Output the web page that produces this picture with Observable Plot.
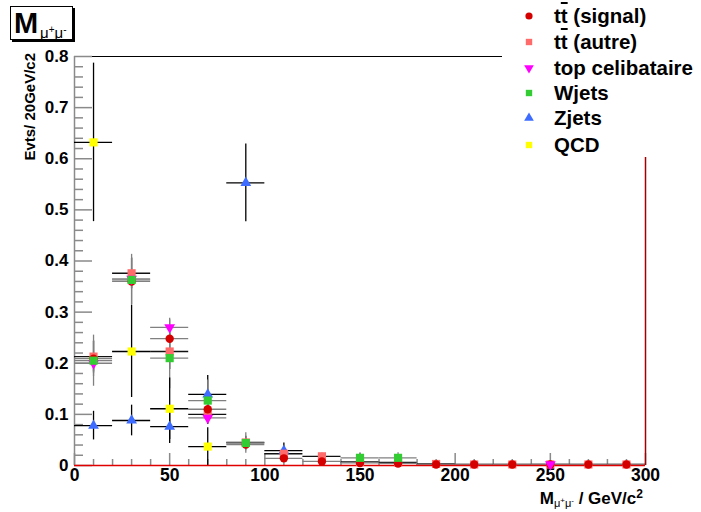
<!DOCTYPE html>
<html>
<head>
<meta charset="utf-8">
<script src="https://cdn.jsdelivr.net/npm/d3@7"></script>
<script src="https://cdn.jsdelivr.net/npm/@observablehq/plot@0.6"></script>
<style>
  body { margin: 0; background: #fff; }
  #wrap { position: relative; width: 701px; height: 512px; font-family: "Liberation Sans", Arial, Helvetica, sans-serif; }
  .ov { position: absolute; white-space: nowrap; color: #000; }
  #legend { position: absolute; left: 502px; top: 0; width: 199px; height: 157px; background: #fff; }
  .lrow { position: absolute; left: 0; height: 26px; display: flex; align-items: center; font-weight: bold; font-size: 20.5px; }
  .lrow svg { margin-left: 21px; margin-right: 19px; }
</style>
</head>
<body>
<div id="wrap"></div>
<script>
// Bin centres (GeV/c2), bin width 20
const bins = [10, 30, 50, 70, 90, 110, 130, 150, 170, 190, 210, 230, 250, 270, 290];

// Series values per bin (null = empty bin)
const ttSignal    = [0.209, 0.360, 0.248, 0.110, 0.041, 0.014, 0.008, 0.005, 0.004, 0.002, 0.002, 0.002, 0.002, 0.002, 0.002];
const ttSignalErr = [0.035, 0.045, 0.040, 0.025, 0.012, 0.008, 0.005, 0.003, 0.003, 0.002, 0.002, 0.001, 0.001, 0.001, 0.001];
const ttAutre     = [0.213, 0.376, 0.223, 0.100, 0.045, 0.023, 0.018, 0.007, 0.006, 0.003, 0.002, 0.002, 0.002, 0.002, 0.002];
const ttAutreErr  = [0.030, 0.030, 0.035, 0.020, 0.012, 0.010, 0.006, 0.004, 0.004, 0.002, 0.002, 0.001, 0.001, 0.001, 0.001];
const topCelib    = [0.200, 0.365, 0.270, 0.093, null, null, null, null, null, null, null, null, 0.002, null, null];
const topCelibErr = [0.020, 0.020, 0.015, 0.010, null, null, null, null, null, null, null, null, 0.002, null, null];
const wjets       = [0.205, 0.363, 0.210, 0.127, 0.044, null, null, 0.015, 0.015, null, null, null, null, null, null];
const wjetsErr    = [0.050, 0.050, 0.060, 0.040, 0.020, null, null, 0.010, 0.010, null, null, null, null, null, null];
const zjets       = [0.078, 0.088, 0.076, 0.139, 0.553, 0.029, null, null, null, null, null, null, null, null, null];
const zjetsErr    = [0.028, 0.030, 0.033, 0.037, 0.076, 0.015, null, null, null, null, null, null, null, null, null];
const qcd         = [0.632, 0.223, 0.111, 0.037, null, null, null, null, null, null, null, null, null, null, null];
const qcdErr      = [0.155, 0.090, 0.060, 0.037, null, null, null, null, null, null, null, null, null, null, null];

// Axis ticks
const yMajor = [0, 0.1, 0.2, 0.3, 0.4, 0.5, 0.6, 0.7, 0.8];
const yMinor = d3.range(0, 41).map(i => i * 0.02).filter(v => Math.abs(v * 10 - Math.round(v * 10)) > 1e-6);
const xMajor = [0, 50, 100, 150, 200, 250, 300];
const xMinor = d3.range(0, 31).map(i => i * 10).filter(v => v % 50 !== 0);

const series = [
  {name: "Zjets",           vals: zjets,    errs: zjetsErr,    color: "#3d6cff", symbol: "triangle", rotate: 0,   r: 4.0, err: "#000"},
  {name: "tt (autre)",      vals: ttAutre,  errs: ttAutreErr,  color: "#ff6b6b", symbol: "square",   rotate: 0,   r: 4.6, err: "#111"},
  {name: "tt (signal)",     vals: ttSignal, errs: ttSignalErr, color: "#d40000", symbol: "circle",   rotate: 0,   r: 4.2, err: "#808080"},
  {name: "top celibataire", vals: topCelib, errs: topCelibErr, color: "#ff00ff", symbol: "triangle", rotate: 180, r: 4.0, err: "#808080"},
  {name: "Wjets",           vals: wjets,    errs: wjetsErr,    color: "#33cc33", symbol: "square",   rotate: 0,   r: 4.6, err: "#808080"},
  {name: "QCD",             vals: qcd,      errs: qcdErr,      color: "#ffff00", symbol: "square",   rotate: 0,   r: 4.6, err: "#000"}
];

const marks = [];
const gray = "#8a8a8a";
// frame: top line, y axis line
marks.push(Plot.ruleY([0.8], {stroke: "#000", strokeWidth: 1}));
marks.push(Plot.ruleX([0], {stroke: gray, strokeWidth: 1.5}));
// inner ticks
marks.push(Plot.axisY({ticks: yMajor, tickSize: 18, dx: 18, tickFormat: () => "", stroke: gray, strokeWidth: 1.5, label: null}));
marks.push(Plot.axisY({ticks: yMinor, tickSize: 9, dx: 9, tickFormat: () => "", stroke: gray, strokeWidth: 1.5, label: null}));
marks.push(Plot.axisX({ticks: xMajor, tickSize: 12, dy: -12, tickFormat: () => "", stroke: gray, strokeWidth: 1.5, label: null}));
marks.push(Plot.axisX({ticks: xMinor, tickSize: 6, dy: -6, tickFormat: () => "", stroke: gray, strokeWidth: 1.5, label: null}));
// tick labels
marks.push(Plot.axisY({ticks: yMajor, tickSize: 0, tickPadding: 6, tickFormat: d => d === 0 ? "0" : d.toFixed(1), fontSize: 17, fontWeight: "bold", label: null}));
marks.push(Plot.axisX({ticks: xMajor, tickSize: 0, tickPadding: 3, tickFormat: d => String(d), fontSize: 17.5, fontWeight: "bold", label: null}));

for (const s of series) {
  const data = bins.map((b, i) => ({bin: b, v: s.vals[i], e: s.errs[i]})).filter(d => d.v != null);
  marks.push(Plot.ruleX(data, {x: "bin", y1: d => Math.max(0, d.v - d.e), y2: d => d.v + d.e, stroke: s.err, strokeWidth: 1.3}));
  marks.push(Plot.ruleY(data, {y: "v", x1: d => d.bin - 10, x2: d => d.bin + 10, stroke: s.err, strokeWidth: 1.3}));
}
// histogram outline along zero and at the upper edge
marks.push(Plot.ruleY([0], {x1: 0, x2: 300, stroke: "#e00000", strokeWidth: 1.5}));
marks.push(Plot.ruleX([300], {y1: 0, y2: 0.8, stroke: "#a00000", strokeWidth: 1.5}));
for (const s of series) {
  const data = bins.map((b, i) => ({bin: b, v: s.vals[i]})).filter(d => d.v != null);
  marks.push(Plot.dot(data, {x: "bin", y: "v", symbol: s.symbol, rotate: s.rotate, r: s.r, fill: s.color, stroke: "none"}));
}

const chart = Plot.plot({
  width: 701, height: 512,
  marginLeft: 74, marginRight: 56, marginTop: 56, marginBottom: 47,
  x: {domain: [0, 300]},
  y: {domain: [0, 0.8]},
  style: {fontFamily: "'Liberation Sans', Arial, Helvetica, sans-serif", color: "#000", background: "#fff"},
  marks
});
const wrap = document.getElementById("wrap");
wrap.appendChild(chart);

// Title box
const title = document.createElement("div");
title.className = "ov";
title.style.cssText = "left:10px;top:6px;width:61px;height:32px;border:1px solid #000;box-shadow:2px 2px 0 #000;background:#fff;";
title.innerHTML = '<span style="position:absolute;left:3px;top:0px;font-weight:bold;font-size:29px;line-height:32px;">M</span>' +
  '<span style="position:absolute;left:29px;top:15px;font-size:15px;line-height:16px;">&mu;<sup style="font-size:10px;vertical-align:5px">+</sup>&mu;<sup style="font-size:10px;vertical-align:5px">-</sup></span>';
wrap.appendChild(title);

// Y axis title
const ytitle = document.createElement("div");
ytitle.className = "ov";
ytitle.style.cssText = "left:21px;top:53px;font-weight:bold;font-size:15px;line-height:17px;transform-origin:0 0;transform:rotate(-90deg) translate(-100%,0);";
ytitle.textContent = "Evts/ 20GeV/c2";
wrap.appendChild(ytitle);

// X axis title
const xtitle = document.createElement("div");
xtitle.className = "ov";
xtitle.style.cssText = "right:58px;top:486px;font-weight:bold;font-size:17px;line-height:17px;";
xtitle.innerHTML = 'M<span style="font-size:11px;font-weight:normal;position:relative;top:3px;">&mu;<sup style="font-size:8px;vertical-align:4px">+</sup>&mu;<sup style="font-size:8px;vertical-align:4px">-</sup></span> / GeV/c<sup style="font-size:12px;vertical-align:6px">2</sup>';
wrap.appendChild(xtitle);

// Legend
const legend = document.createElement("div");
legend.id = "legend";
const legendItems = [
  {html: 't<span style="text-decoration:overline">t</span> (signal)', s: series[2]},
  {html: 't<span style="text-decoration:overline">t</span> (autre)', s: series[1]},
  {html: 'top celibataire', s: series[3]},
  {html: 'Wjets', s: series[4]},
  {html: 'Zjets', s: series[0]},
  {html: 'QCD', s: series[5]}
];
const rowY = [16, 42, 68, 93, 118, 145];
legendItems.forEach((it, i) => {
  const row = document.createElement("div");
  row.className = "lrow";
  row.style.top = (rowY[i] - 13) + "px";
  const sym = d3.symbol().type(
    it.s.symbol === "circle" ? d3.symbolCircle : it.s.symbol === "square" ? d3.symbolSquare : d3.symbolTriangle
  ).size(Math.PI * 3.6 * 3.6)();
  row.innerHTML = `<svg width="12" height="12" viewBox="-6 -6 12 12"><path d="${sym}" fill="${it.s.color}" transform="rotate(${it.s.rotate})"/></svg><span>${it.html}</span>`;
  legend.appendChild(row);
});
wrap.appendChild(legend);
</script>
</body>
</html>
